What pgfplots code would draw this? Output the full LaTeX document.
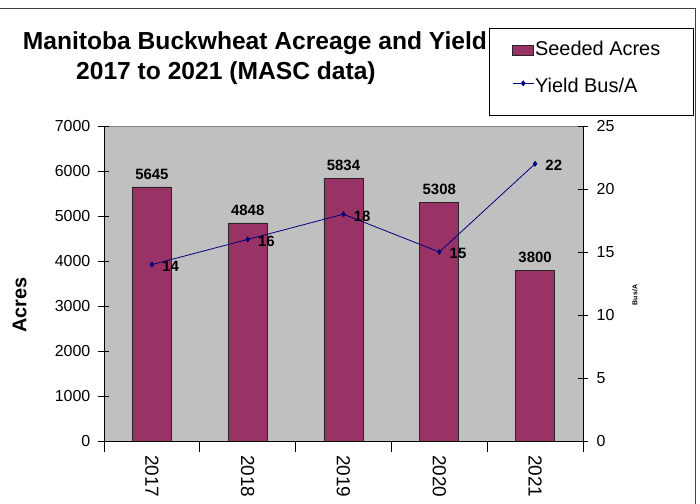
\documentclass[border=0pt]{standalone}
\usepackage{fontspec}
\setmainfont{Liberation Sans}
\usepackage{pgfplots}
\pgfplotsset{compat=1.18}
\definecolor{barfill}{HTML}{993366}
\definecolor{plotbg}{HTML}{C0C0C0}
\definecolor{yieldblue}{HTML}{000080}
\definecolor{framegray}{HTML}{404040}
\pgfplotsset{
  /pgf/number format/1000 sep={},
  /pgf/number format/assume math mode=true,
  excelaxis/.style={
    scale only axis, width=479bp, height=315bp,
    at={(0,0)}, anchor=south west,
    xmin=-0.5, xmax=4.5,
    tick align=center, major tick length=11bp,
    axis line style={black, -},
    tick style={black, line width=0.6bp},
    yticklabel style={font=\fontsize{16}{19}\selectfont, inner sep=0pt},
    yticklabel shift=8bp,
  },
  barlegend/.style={legend image code/.code={\draw[##1] (0bp,-2bp) rectangle (21bp,8bp);}},
  linelegend/.style={legend image code/.code={\draw[##1, /tikz/sharp plot, mark repeat=2, mark phase=2]
    plot coordinates {(0bp,7bp) (10.5bp,7bp) (21bp,7bp)};}},
}

\begin{document}
\begin{tikzpicture}
\useasboundingbox (-104bp,-63bp) rectangle (596bp,441bp);
\draw[framegray, line width=0.8bp] (-105bp,433bp) -- (591bp,433bp) -- (591bp,-64bp);

% acres (bars, left axis)
\begin{axis}[excelaxis,
  axis x line*=bottom, axis y line*=left,
  axis background/.style={fill=plotbg, draw=gray},
  ymin=0, ymax=7000, ytick={0,1000,...,7000},
  xtick={-0.5,0.5,...,4.5}, x tick label as interval,
  xticklabels={2017,2018,2019,2020,2021},
  xticklabel style={rotate=-90, anchor=west, font=\fontsize{19}{23}\selectfont, inner sep=0pt},
  xticklabel shift=3bp,
  ylabel={Acres},
  every axis y label/.style={at={(axis description cs:-0.1764,0.4317)}, rotate=90, anchor=center,
    font=\bfseries\fontsize{20}{24}\selectfont},
  ybar, bar width=39bp,
  nodes near coords,
  every node near coord/.append style={anchor=base, yshift=7.7bp, inner sep=0pt, text=black,
    font=\bfseries\fontsize{15}{18}\selectfont},
  legend cell align=left,
  legend style={at={(axis description cs:0.8038,1.311)}, anchor=north west,
    draw=black, fill=white, line width=0.6bp,
    inner xsep=23bp, inner ysep=13bp, row sep=13bp,
    font=\fontsize{20}{24}\selectfont,
    nodes={inner sep=0pt, text height=14bp, text depth=10bp},
    /tikz/every odd column/.append style={column sep=1bp}},
]
\addplot[fill=barfill, draw=black!85, line width=0.6bp, barlegend]
  coordinates {(0,5645) (1,4848) (2,5834) (3,5308) (4,3800)};
\addlegendentry{\makebox[135bp][l]{Seeded Acres}}
\addlegendimage{yieldblue, line width=0.8bp, mark=diamond*, mark size=2.4bp,
  mark options={fill=yieldblue}, linelegend}
\addlegendentry{\makebox[135bp][l]{Yield Bus/A}}
\end{axis}

% yield (line, right axis)
\begin{axis}[excelaxis,
  axis x line=none, axis y line*=right,
  ymin=0, ymax=25, ytick={0,5,...,25},
  ylabel={Bus/A},
  every axis y label/.style={at={(axis description cs:1.1086,0.4635)}, rotate=90, anchor=center,
    font=\bfseries\fontsize{7}{8}\selectfont},
  nodes near coords,
  every node near coord/.append style={anchor=base west, xshift=10bp, yshift=-7bp, inner sep=0pt,
    text=black, font=\bfseries\fontsize{15}{18}\selectfont},
]
\addplot[yieldblue, line width=0.8bp, mark=diamond*, mark size=2.4bp, mark options={fill=yieldblue}]
  coordinates {(0,14) (1,16) (2,18) (3,15) (4,22)};
\end{axis}

\node[anchor=base west, inner sep=0pt, font=\bfseries\fontsize{24.7}{29}\selectfont] at (-81.3bp,391.7bp)
  {Manitoba Buckwheat Acreage and Yield};
\node[anchor=base west, inner sep=0pt, font=\bfseries\fontsize{24.7}{29}\selectfont] at (-28bp,361bp)
  {2017 to 2021 (MASC data)};
\end{tikzpicture}
\end{document}
